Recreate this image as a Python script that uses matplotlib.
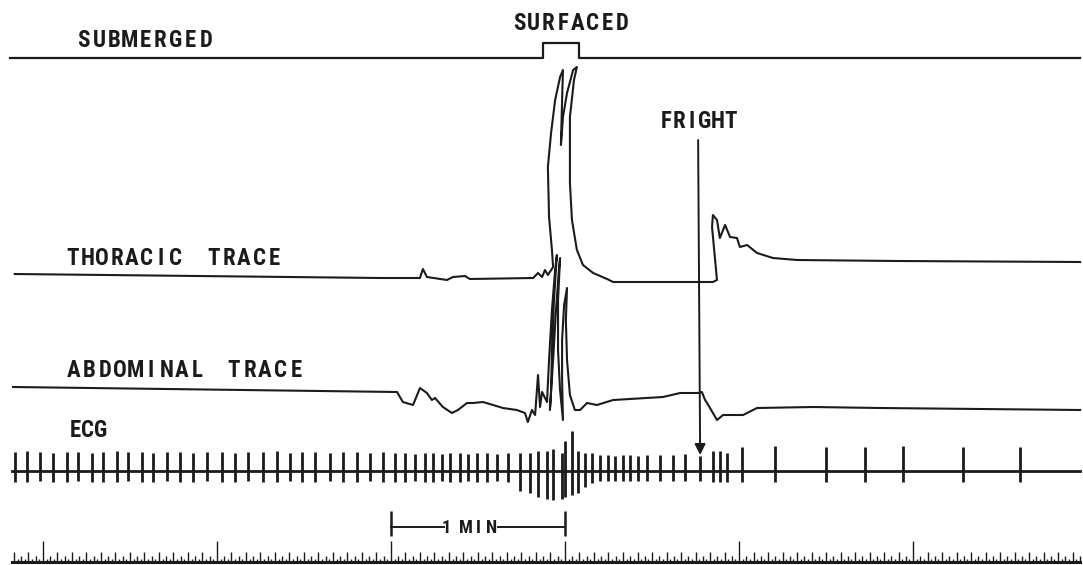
import numpy as np
import matplotlib
matplotlib.use('Agg')
import matplotlib.pyplot as plt
from matplotlib import font_manager

# --- readings taken off the recording (time in s, deflection in chart mm) ---
# time origin is the first one-minute mark of the timer row
rec_start, rec_end = -10.7, 357.6

# event marker: submerged / surfaced
surfaced_start, surfaced_end = 172.4, 184.8
surfaced_height = 15

# thoracic respiration trace (pen path, deflection above resting level)
thor_t = [-9.7, 116.2, 130.0, 131.0, 132.4, 139.3, 141.4, 145.5, 147.2, 169.0,
          170.7, 172.1, 173.1, 174.1, 175.9, 175.5, 174.5, 174.1, 175.2, 176.6,
          178.3, 179.3, 179.0, 178.6, 179.3, 180.7, 182.8, 184.1, 183.1, 181.7,
          181.7, 182.4, 184.1, 186.2, 189.7, 194.5, 196.6, 231.0, 232.4, 230.7,
          231.0, 232.4, 233.4, 235.2, 236.9, 239.3, 240.3, 242.8, 246.2, 251.7,
          260.0, 294.5, 357.6]
thor_v = [6, 2, 2, 11, 3, 0, 3, 4, 1, 2,
          7, 3, 10, 5, 13, 30, 63, 113, 147, 180,
          203, 210, 180, 135, 163, 187, 210, 213, 200, 163,
          97, 60, 30, 15, 7, 1, -2, -2, 0, 53,
          65, 60, 42, 55, 43, 42, 33, 35, 27, 22,
          20, 19, 18]

# abdominal respiration trace
abd_t = [-10.3, 122.1, 124.1, 127.6, 130.0, 132.4, 134.1, 135.2, 137.9, 141.0,
         143.1, 146.2, 148.3, 151.7, 155.2, 158.6, 163.4, 166.2, 167.2, 168.6,
         169.7, 170.7, 171.4, 172.1, 173.8, 174.5, 175.5, 176.6, 177.2, 176.2,
         175.5, 175.2, 174.8, 175.9, 176.9, 177.9, 178.3, 177.6, 177.6, 178.3,
         179.3, 179.0, 179.0, 179.7, 180.7, 180.3, 180.7, 181.7, 183.4, 185.2,
         187.6, 191.0, 196.6, 213.8, 219.7, 225.9, 227.2, 228.3, 229.0, 232.4,
         234.5, 236.9, 241.4, 246.2, 265.5, 288.6, 357.6]
abd_v = [13, 8, -2, -5, 12, 7, 0, 2, -7, -13,
         -10, -3, -3, -2, -5, -8, -10, -13, -22, -10,
         -15, 25, -7, 8, -2, 40, 90, 130, 145, 100,
         50, 10, -10, 40, 90, 130, 142, 100, 50, 10,
         -20, 20, 60, 95, 112, 80, 40, 5, -10, -10,
         -3, -5, 0, 3, 7, 7, 8, 0, -3, -20,
         -15, -15, -15, -8, -7, -8, -10]

# ECG: beat times and spike size above / below the baseline
ecg_t = [-9.7, -5.5, -1.0, 3.4, 8.3, 12.1, 16.9, 20.7, 25.5, 29.3,
         34.1, 37.9, 42.8, 47.2, 51.7, 56.6, 61.7, 66.2, 70.7, 75.9,
         80.7, 85.2, 89.3, 93.8, 99.0, 103.4, 108.3, 112.8, 117.2,
         121.4, 124.8, 128.3, 131.7, 134.5, 137.6, 140.3, 143.8, 146.6, 149.7,
         153.1, 156.6, 160.3,
         164.5, 167.9, 170.7, 173.8, 175.9, 179.0, 180.0, 182.4, 184.5, 186.9,
         189.3,
         192.1, 194.8, 197.2, 200.0, 202.4, 205.2, 208.3, 212.8, 217.2, 221.4,
         226.6,
         231.0, 233.4, 235.9, 241.0, 252.4, 270.0, 283.4, 296.6, 317.2, 336.9]
ecg_up = [19, 20, 19, 18, 19, 19, 18, 19, 20, 19,
          19, 18, 19, 19, 18, 19, 19, 18, 19, 19,
          20, 18, 19, 19, 18, 19, 19, 18, 19,
          18, 18, 17, 18, 18, 17, 18, 18, 17, 18,
          18, 17, 18,
          18, 18, 20, 20, 22, 18, 30, 40, 20, 18,
          18,
          16, 16, 15, 16, 16, 15, 16, 16, 16, 17,
          15,
          20, 20, 18, 24, 25, 24, 24, 25, 24, 24]
ecg_down = [11, 11, 10, 11, 11, 10, 11, 11, 11, 10,
            11, 11, 10, 11, 11, 10, 11, 11, 10, 11,
            11, 10, 11, 11, 10, 11, 11, 10, 11,
            11, 11, 10, 11, 11, 10, 11, 11, 10, 11,
            11, 10, 11,
            20, 22, 26, 28, 29, 28, 26, 24, 22, 16,
            12,
            10, 10, 10, 10, 10, 10, 10, 10, 10, 10,
            10,
            11, 11, 11, 11, 11, 11, 11, 11, 11, 11]

fright_t = 226.6
minute_bar = (120, 180)

# --- layout: where each channel sits on the chart paper ---
SUB_Y, THOR_Y, ABD_Y, ECG_Y, TIME_Y = 507, 285, 165, 94, 3
INK = '#1b1b1b'

# look for a narrow bold face, the chart lettering is condensed
fonts = font_manager.fontManager.ttflist
names = {f.name for f in fonts}
FONT, STRETCH, FSIZE = 'DejaVu Sans', 'normal', 12.5
for cand in ['Liberation Sans Narrow', 'Roboto Condensed', 'Open Sans Condensed']:
    if cand in names:
        FONT, STRETCH, FSIZE = cand, 'normal', 16.5
        break
else:
    if any(f.name == 'DejaVu Sans' and f.stretch == 'condensed' and f.weight == 700
           for f in fonts):
        FONT, STRETCH, FSIZE = 'DejaVu Sans', 'condensed', 14.5

fig = plt.figure(figsize=(10.83, 5.65), dpi=100)
ax = fig.add_axes([0, 0, 1, 1])
ax.set_xlim(-14.8, 358.6)
ax.set_ylim(0, 565)
ax.axis('off')


def spaced(t, y, text, pitch, size=FSIZE):
    # letter-spaced label, pitch in pixels
    for i, ch in enumerate(text):
        if ch == ' ':
            continue
        ax.annotate(ch, (t, y), xytext=(i * pitch * 0.72, 0),
                    textcoords='offset points', ha='center', va='baseline',
                    fontsize=size, fontweight='bold', family=FONT,
                    fontstretch=STRETCH, color=INK)


# event marker
sub_t = [-11.4, surfaced_start, surfaced_start, surfaced_end, surfaced_end, rec_end]
sub_v = [0, 0, surfaced_height, surfaced_height, 0, 0]
ax.plot(sub_t, np.array(sub_v) + SUB_Y, color=INK, lw=1.6)

# respiration traces
ax.plot(thor_t, np.array(thor_v) + THOR_Y, color=INK, lw=1.5,
        solid_joinstyle='round')
ax.plot(abd_t, np.array(abd_v) + ABD_Y, color=INK, lw=1.5,
        solid_joinstyle='round')

# ECG
ax.plot([rec_start, rec_end], [ECG_Y, ECG_Y], color=INK, lw=2.0)
ax.vlines(ecg_t, ECG_Y - np.array(ecg_down), ECG_Y + np.array(ecg_up),
          color=INK, lw=2.0)

# timer row
ax.plot([rec_start, rec_end], [TIME_Y, TIME_Y], color=INK, lw=2.2)
ticks = np.arange(-10, 358, 1.25)
heights = np.where(ticks % 60 == 0, 21,
                   np.where(ticks % 5 == 0, 10,
                            np.where(ticks % 2.5 == 0, 6, 3)))
ax.vlines(ticks, TIME_Y, TIME_Y + heights, color=INK, lw=1.0)

# one-minute scale bar
bar_y = 38
ax.plot([minute_bar[0], 138.3], [bar_y, bar_y], color=INK, lw=1.4)
ax.plot([156.9, minute_bar[1]], [bar_y, bar_y], color=INK, lw=1.4)
ax.vlines(minute_bar, bar_y - 9, bar_y + 16, color=INK, lw=1.8)
spaced(139.0, 32, '1', 0, size=FSIZE * 0.8)
spaced(145.9, 32, 'MIN', 12.5, size=FSIZE * 0.8)

# fright arrow
ax.annotate('', xy=(fright_t, 110), xytext=(225.9, 425),
            arrowprops=dict(arrowstyle='-|>', color=INK, lw=1.4,
                            mutation_scale=16, shrinkA=0, shrinkB=0))

# labels
spaced(14.1, 518, 'SUBMERGED', 15.25)
spaced(164.1, 535, 'SURFACED', 14.7)
spaced(10.3, 300, 'THORACIC', 14.7)
spaced(59.0, 300, 'TRACE', 15.0)
spaced(10.7, 188, 'ABDOMINAL', 15.4)
spaced(65.9, 188, 'TRACE', 15.5)
spaced(11.0, 128, 'ECG', 13)
spaced(214.8, 437, 'FRIGHT', 13)

fig.savefig('out.png', dpi=100, facecolor='white')
